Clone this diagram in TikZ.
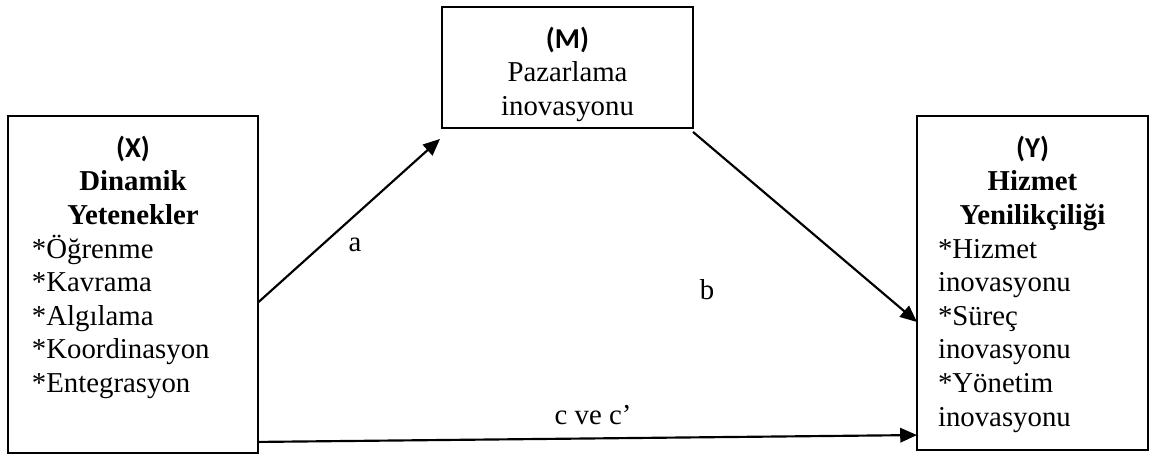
\documentclass[tikz,border=0pt]{standalone}
\usepackage{fontspec}
\setmainfont{Liberation Serif}
\newfontfamily\tagfont{Carlito}
\usetikzlibrary{positioning,arrows.meta}

\begin{document}
\begin{tikzpicture}
  [x=0.4167pt,y=-0.4167pt,line width=0.8pt,
   box/.style={draw,rectangle,inner sep=0pt,outer sep=0pt,anchor=north west},
   txt/.style={inner sep=0pt,outer sep=0pt,font=\fontsize{12}{14}\selectfont},
   arr/.style={-{Triangle[length=7pt,width=6pt]},line width=0.9pt}]
  \useasboundingbox (0,0) rectangle (1149,455);

  % the three boxes
  \node[box,minimum width=104.2pt,minimum height=140.4pt] (X) at (8,116) {};
  \node[box,minimum width=104.6pt,minimum height=50.4pt] (M) at (442,7) {};
  \node[box,minimum width=96.25pt,minimum height=139.2pt] (Y) at (917,116) {};

  % {*} so that \\ does not take the star
  \node[txt,text width=84.2pt,align=left,below=8.3pt of X.north] (Xtext)
    {{\centering\tagfont\bfseries (X)\\ \rmfamily Dinamik\\ Yetenekler\par}
     {*}Öğrenme\\ {*}Kavrama\\ {*}Algılama\\ {*}Koordinasyon\\ {*}Entegrasyon};
  \node[txt,align=center,below=8.3pt of M.north] (Mtext)
    {{\tagfont\bfseries (M)}\\ Pazarlama\\ inovasyonu};
  \node[txt,text width=78.75pt,align=left,below=8.3pt of Y.north] (Ytext)
    {{\centering\tagfont\bfseries (Y)\\ \rmfamily Hizmet\\ Yenilikçiliği\par}
     {*}Hizmet\\ inovasyonu\\ {*}Süreç\\ inovasyonu\\ {*}Yönetim\\ inovasyonu};

  % paths a, b, c
  \draw[arr] ([shift={(0,18)}]X.east) -- ([shift={(-2,11)}]M.south west);
  \draw[arr] ([shift={(0,4)}]M.south east) -- ([shift={(0,39)}]Y.west);
  \draw[arr] ([shift={(0,-11)}]X.south east) -- ([shift={(0,-15)}]Y.south west);

  \node[txt] (la) at (355,245) {a};
  \node[txt] (lb) at (707,290) {b};
  \node[txt] (lc) at (593,415) {c ve c’};
\end{tikzpicture}
\end{document}
